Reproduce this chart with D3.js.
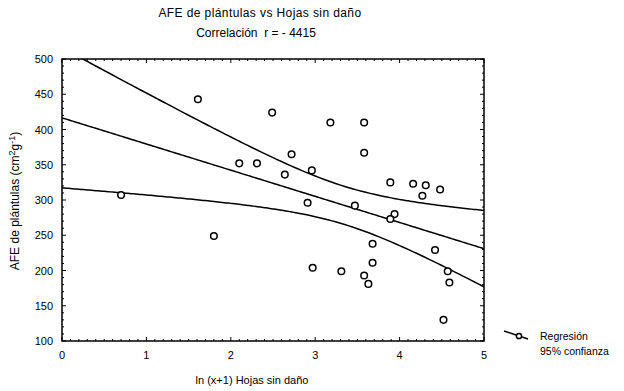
<!DOCTYPE html>
<html>
<head>
<meta charset="utf-8">
<script src="https://cdn.jsdelivr.net/npm/d3@7"></script>
<style>
body { margin: 0; background: #fff; }
svg text { font-family: "Liberation Sans", Arial, sans-serif; fill: #000; }
</style>
</head>
<body>
<div id="container"></div>
<script>
// data
var hojas = [1.61, 2.49, 2.10, 2.31, 0.70, 3.18, 3.58, 2.72, 3.58, 2.64, 2.96,
             3.89, 4.16, 4.31, 4.48, 4.27, 2.91, 3.47, 3.94, 3.89, 3.68, 4.42,
             3.68, 2.97, 3.31, 4.57, 3.58, 3.63, 4.59, 4.52, 1.80];
var afe = [443, 424, 352, 352, 307, 410, 410, 365, 367, 336, 342,
           325, 323, 321, 315, 306, 296, 292, 280, 273, 238, 229,
           211, 204, 199, 199, 193, 181, 183, 130, 249];
var x_ticks = [0, 1, 2, 3, 4, 5],
    y_ticks = [100, 150, 200, 250, 300, 350, 400, 450, 500];
var legend_labels = ["Regresión", "95% confianza"];

var width = 624, height = 391;
var p_left = 62, p_right = 484, p_top = 59, p_bottom = 341;

var svg = d3.select("#container")
            .append("svg")
            .attr("width", width)
            .attr("height", height);

var x = d3.scaleLinear().domain([0, 5]).range([p_left, p_right]);
var y = d3.scaleLinear().domain([100, 500]).range([p_bottom, p_top]);

// titles
svg.append("text").attr("x", 260).attr("y", 17)
   .attr("text-anchor", "middle").style("font-size", "12px").style("letter-spacing", "0.4px")
   .text("AFE de plántulas vs Hojas sin daño");
svg.append("text").attr("x", 256).attr("y", 37)
   .attr("text-anchor", "middle").style("font-size", "12px").style("white-space", "pre")
   .text("Correlación  r = - 4415");

// linear regression + 95% band
var n = hojas.length;
var mx = d3.mean(hojas), my = d3.mean(afe);
var sxx = d3.sum(hojas, function(d){ return (d - mx) * (d - mx); });
var sxy = d3.sum(hojas, function(d, i){ return (d - mx) * (afe[i] - my); });
var b = sxy / sxx, a = my - b * mx;
var sse = d3.sum(hojas, function(d, i){ var r = afe[i] - (a + b * d); return r * r; });
var s = Math.sqrt(sse / (n - 2));
var tval = 2.045;

var grid = d3.range(0, 5.001, 0.05);
var fit = grid.map(function(g){ return [g, a + b * g]; });
var upper = grid.map(function(g){
  return [g, a + b * g + tval * s * Math.sqrt(1 / n + (g - mx) * (g - mx) / sxx)];
});
var lower = grid.map(function(g){
  return [g, a + b * g - tval * s * Math.sqrt(1 / n + (g - mx) * (g - mx) / sxx)];
});

svg.append("clipPath").attr("id", "plotclip")
   .append("rect").attr("x", p_left).attr("y", p_top)
   .attr("width", p_right - p_left).attr("height", p_bottom - p_top);

var line = d3.line()
  .x(function(d){ return x(d[0]); })
  .y(function(d){ return y(d[1]); })
  .curve(d3.curveMonotoneX);

var lines = svg.append("g").attr("clip-path", "url(#plotclip)");
[fit, upper, lower].forEach(function(l){
  lines.append("path").attr("d", line(l))
       .attr("fill", "none").attr("stroke", "#000").attr("stroke-width", 1.5);
});

// points
svg.append("g").selectAll("circle")
   .data(hojas)
   .enter().append("circle")
   .attr("cx", function(d){ return x(d); })
   .attr("cy", function(d, i){ return y(afe[i]); })
   .attr("r", 3.3)
   .attr("fill", "#fff")
   .attr("stroke", "#000")
   .attr("stroke-width", 1.5);

// frame and ticks
svg.append("rect").attr("x", p_left).attr("y", p_top)
   .attr("width", p_right - p_left).attr("height", p_bottom - p_top)
   .attr("fill", "none").attr("stroke", "#000").attr("stroke-width", 1.5);

var ax = svg.append("g").attr("stroke", "#000").attr("stroke-width", 1);
d3.range(0, 5.001, 0.1).forEach(function(v){
  var len = Math.abs(v - Math.round(v)) < 1e-6 ? 4 : 2;
  ax.append("line").attr("x1", x(v)).attr("x2", x(v)).attr("y1", p_bottom).attr("y2", p_bottom - len);
  ax.append("line").attr("x1", x(v)).attr("x2", x(v)).attr("y1", p_top).attr("y2", p_top + len);
});
d3.range(100, 501, 10).forEach(function(v){
  var len = v % 50 == 0 ? 4 : 2;
  ax.append("line").attr("y1", y(v)).attr("y2", y(v)).attr("x1", p_left).attr("x2", p_left + len);
  ax.append("line").attr("y1", y(v)).attr("y2", y(v)).attr("x1", p_right).attr("x2", p_right - len);
});

svg.append("g").selectAll("text")
   .data(x_ticks).enter().append("text")
   .attr("x", function(d){ return x(d); })
   .attr("y", 359)
   .attr("text-anchor", "middle")
   .style("font-size", "11px")
   .text(function(d){ return d; });

svg.append("g").selectAll("text")
   .data(y_ticks).enter().append("text")
   .attr("x", 53)
   .attr("y", function(d){ return y(d) + 4; })
   .attr("text-anchor", "end")
   .style("font-size", "11px")
   .text(function(d){ return d; });

// axis titles
svg.append("text").attr("x", 252).attr("y", 384)
   .attr("text-anchor", "middle").style("font-size", "11px")
   .text("ln (x+1) Hojas sin daño");

var yt = svg.append("text")
   .attr("transform", "translate(19,201) rotate(-90)")
   .attr("text-anchor", "middle").style("font-size", "12px");
yt.append("tspan").text("AFE de plántulas (cm");
yt.append("tspan").attr("dy", -4).style("font-size", "9px").text("2");
yt.append("tspan").attr("dy", 4).text("g");
yt.append("tspan").attr("dy", -4).style("font-size", "9px").text("-1");
yt.append("tspan").attr("dy", 4).text(")");

// legend symbol: line through a circle
var lg = svg.append("g").attr("stroke", "#000").attr("stroke-width", 1.5).attr("fill", "none");
lg.append("path").attr("d", "M504,331 L516,335");
lg.append("path").attr("d", "M522,337 L528,339");
lg.append("circle").attr("cx", 519).attr("cy", 336).attr("r", 2.6).attr("fill", "#fff");

svg.append("g").selectAll("text")
   .data(legend_labels).enter().append("text")
   .attr("x", 540)
   .attr("y", function(d, i){ return 340 + i * 15; })
   .style("font-size", "10.5px")
   .text(function(d){ return d; });
</script>
</body>
</html>
